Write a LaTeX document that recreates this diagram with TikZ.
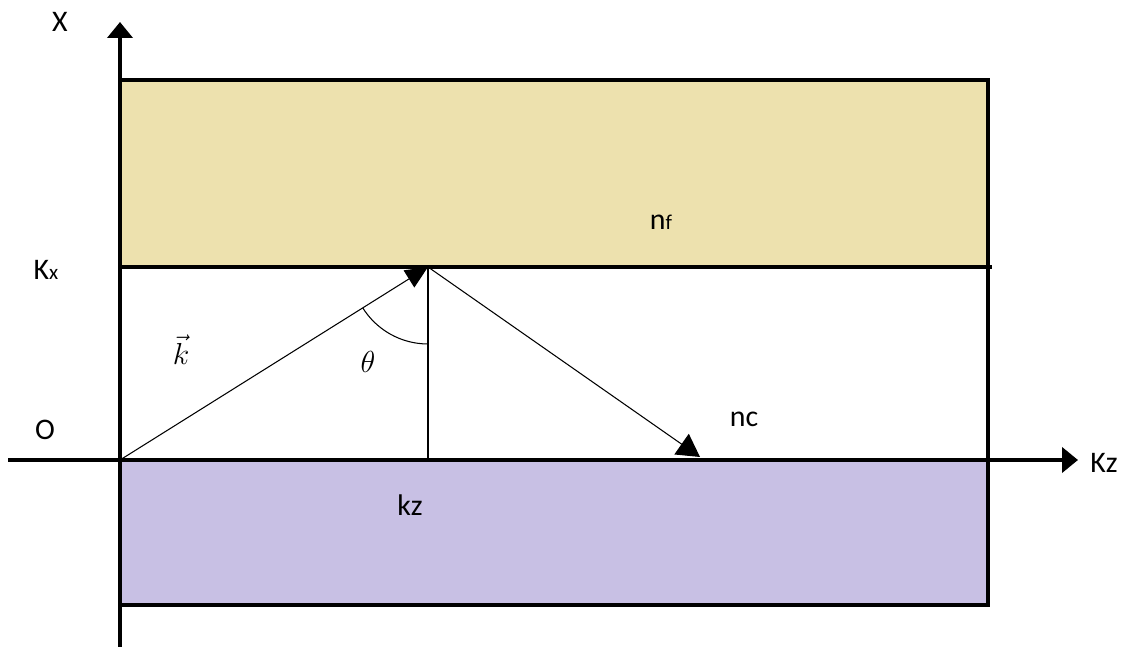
\documentclass[tikz,border=0pt]{standalone}
\usepackage{fontspec}
\setmainfont{Carlito}
\usepackage{amsmath}
\usetikzlibrary{positioning,calc,arrows.meta}
\definecolor{filmcol}{RGB}{237,225,174}
\definecolor{subcol}{RGB}{200,192,228}

\begin{document}
\begin{tikzpicture}[
  font=\fontsize{17}{20}\selectfont,
  bold/.style={line width=2.4pt},
  ray/.style={line width=0.6pt},
  lbl/.style={inner sep=1pt},
  >={Triangle[length=3.2mm,width=5mm]}]
\useasboundingbox (0,0) rectangle (22.5,12.94);
% points of the construction
\coordinate (O) at (2.4,3.74);
\coordinate (P) at (8.56,7.6);
\coordinate (F) at (8.56,3.74);
\coordinate (R) at (14.0,3.8);
\coordinate (xbot) at (2.4,0);
\coordinate (xtop) at (2.4,12.5);
\coordinate (zleft) at (0.16,3.74);
\coordinate (ztip) at (21.56,3.74);
% layers
\filldraw[bold, fill=filmcol] (2.4,7.6) rectangle (19.76,11.34);
\filldraw[bold, fill=subcol] (2.4,3.74) rectangle (19.76,0.84);
\draw[bold] (19.76,7.6) -- (19.76,3.74);
\draw[bold] (19.76,7.6) -- (19.84,7.6);
% axes
\draw[bold,->] (xbot) -- (xtop);
\draw[bold,->] (zleft) -- (ztip);
% rays
\draw[ray, -{Triangle[length=4.5mm,width=4mm]}] (O) -- (P);
\draw[ray] (P) -- (F);
\draw[ray, -{Triangle[length=4.5mm,width=5mm]}] (P) -- (R);
\draw[ray] ([shift={(212:1.54)}]P) arc[start angle=212, end angle=270, radius=1.54];
% labels
\node[lbl] (xlab) at (1.2,12.5) {X};
\node[lbl] (kxlab) at (0.92,7.54) {K{\fontsize{12}{14}\selectfont x}};
\node[lbl] (olab) at (0.9,4.34) {O};
\node[lbl] (nflab) at (13.22,8.5) {n{\fontsize{12}{14}\selectfont f}};
\node[lbl] (nclab) at (14.88,4.56) {nc};
\node[lbl] (kzlab) at (8.2,2.84) {kz};
\node[lbl] (Kzlab) at (22.08,3.68) {Kz};
\node[lbl, font=\fontsize{18}{21}\selectfont] (klab) at (3.62,5.94) {$\vec{k}$};
\node[lbl, font=\fontsize{18}{21}\selectfont] (thlab) at (7.36,5.7) {$\theta$};
\end{tikzpicture}
\end{document}
